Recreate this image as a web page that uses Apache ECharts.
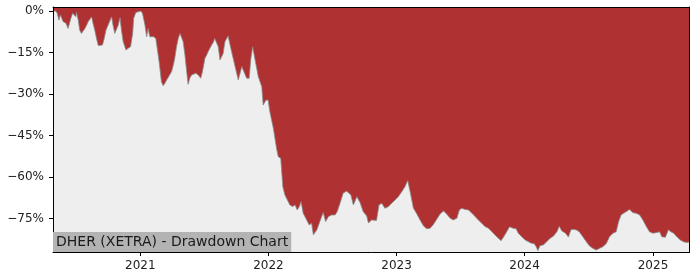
<!DOCTYPE html>
<html>
<head>
<meta charset="utf-8">
<script src="https://cdn.jsdelivr.net/npm/echarts@6/dist/echarts.min.js"></script>
<style>
html,body{margin:0;padding:0;background:#fff;}
#chart{width:700px;height:280px;}
</style>
</head>
<body>
<div id="chart"></div>
<script>
const titleText = 'DHER (XETRA) - Drawdown Chart';
const xStart = '2020-04-27';
const xEnd = '2025-04-15';
const yearTicks = ['2021-01-01','2022-01-01','2023-01-01','2024-01-01','2025-01-01'];
const yTicks = [0, -15, -30, -45, -60, -75];

const dates = [
'2020-04-27','2020-05-05','2020-05-09','2020-05-14','2020-05-18','2020-05-22','2020-05-26','2020-06-03','2020-06-09','2020-06-14',
'2020-06-17','2020-06-22','2020-06-26','2020-07-01','2020-07-03','2020-07-08','2020-07-12','2020-07-17','2020-07-22','2020-07-27',
'2020-08-01','2020-08-05','2020-08-10','2020-08-15','2020-08-19','2020-08-24','2020-08-29','2020-09-03','2020-09-07','2020-09-15',
'2020-09-20','2020-09-25','2020-10-01','2020-10-06','2020-10-11','2020-10-15','2020-10-20','2020-10-25','2020-10-30','2020-11-04',
'2020-11-08','2020-11-13','2020-11-21','2020-11-27','2020-12-04','2020-12-10','2020-12-13','2020-12-19','2020-12-26','2021-01-02',
'2021-01-07','2021-01-14','2021-01-19','2021-01-23','2021-01-28','2021-02-02','2021-02-08','2021-02-14','2021-02-18','2021-02-24',
'2021-03-02','2021-03-07','2021-03-12','2021-03-17','2021-03-24','2021-03-31','2021-04-05','2021-04-09','2021-04-14','2021-04-19',
'2021-04-24','2021-04-29','2021-05-03','2021-05-08','2021-05-13','2021-05-17','2021-05-22','2021-05-27','2021-06-01','2021-06-08',
'2021-06-15','2021-06-22','2021-06-27','2021-07-04','2021-07-09','2021-07-13','2021-07-18','2021-07-23','2021-07-28','2021-08-01',
'2021-08-06','2021-08-11','2021-08-16','2021-08-25','2021-08-30','2021-09-08','2021-09-18','2021-09-28','2021-10-07','2021-10-17',
'2021-10-21','2021-10-31','2021-11-07','2021-11-12','2021-11-17','2021-11-24','2021-11-28','2021-12-03','2021-12-13','2021-12-17',
'2021-12-25','2021-12-31','2022-01-05','2022-01-15','2022-01-24','2022-01-29','2022-02-05','2022-02-11','2022-02-17','2022-02-24',
'2022-03-03','2022-03-11','2022-03-18','2022-03-24','2022-03-30','2022-04-04','2022-04-10','2022-04-20','2022-04-27','2022-05-04',
'2022-05-09','2022-05-19','2022-05-28','2022-06-06','2022-06-13','2022-06-21','2022-06-30','2022-07-10','2022-07-16','2022-07-24',
'2022-08-02','2022-08-12','2022-08-17','2022-08-24','2022-08-31','2022-09-10','2022-09-19','2022-09-28','2022-10-08','2022-10-13',
'2022-10-22','2022-11-05','2022-11-12','2022-11-20','2022-11-29','2022-12-09','2022-12-18','2022-12-28','2023-01-06','2023-01-16',
'2023-01-25','2023-02-02','2023-02-09','2023-02-18','2023-02-28','2023-03-09','2023-03-19','2023-03-28','2023-04-07','2023-04-16',
'2023-04-26','2023-05-05','2023-05-15','2023-05-24','2023-06-03','2023-06-12','2023-06-22','2023-06-29','2023-07-06','2023-07-15',
'2023-07-25','2023-08-04','2023-08-13','2023-08-22','2023-09-01','2023-09-10','2023-09-20','2023-09-30','2023-10-09','2023-10-18',
'2023-10-26','2023-11-02','2023-11-11','2023-11-19','2023-11-29','2023-12-08','2023-12-14','2023-12-24','2024-01-03','2024-01-12',
'2024-01-22','2024-01-28','2024-02-03','2024-02-08','2024-02-14','2024-02-24','2024-03-04','2024-03-14','2024-03-23','2024-04-02',
'2024-04-09','2024-04-16','2024-04-26','2024-05-05','2024-05-12','2024-05-18','2024-05-27','2024-06-05','2024-06-15','2024-06-25',
'2024-07-04','2024-07-14','2024-07-23','2024-08-01','2024-08-11','2024-08-21','2024-08-30','2024-09-09','2024-09-18','2024-09-25',
'2024-10-02','2024-10-09','2024-10-17','2024-10-26','2024-11-05','2024-11-14','2024-11-24','2024-12-03','2024-12-13','2024-12-22',
'2025-01-01','2025-01-10','2025-01-20','2025-01-26','2025-02-05','2025-02-14','2025-02-21','2025-03-01','2025-03-10','2025-03-20',
'2025-03-29','2025-04-08','2025-04-14'
];

const drawdown = [
0,0,-0.8,-3.3,-1.4,-1.2,-3.9,-4.4,-6.3,-6.9,
-2.6,-0.8,-0.3,-2.1,-0.5,-3.3,-6.9,-8.1,-7.5,-6.3,
-5.1,-3.9,-3.3,-2.1,-4.4,-6.9,-9.9,-12.5,-12.9,-12.3,
-9.9,-6.9,-5.1,-4.4,-2.1,-5.1,-8.1,-7.5,-5.1,-2.4,
-6.9,-11.1,-14.1,-13.5,-12.9,-8.1,-2.6,-0.5,-0.3,0,
-0.8,-5.1,-9.3,-6.3,-9.3,-8.7,-9.3,-9.9,-13.5,-18.9,
-25.6,-27.0,-26.1,-24.9,-23.4,-21.9,-19.5,-17.1,-12.9,-9.9,
-8.1,-7.5,-11.1,-15.9,-21.9,-26.5,-24.2,-23.1,-22.5,-22.5,
-23.1,-24.3,-21.9,-17.1,-15.9,-14.7,-15.0,-12.3,-11.3,-9.9,
-9.9,-12.9,-17.7,-15.3,-11.1,-9.0,-14.7,-20.1,-24.9,-20.1,
-21.3,-24.3,-24.3,-17.1,-12.9,-17.7,-18.3,-23.7,-27.4,-34.0,
-32.2,-32.2,-36.4,-42.4,-49.6,-52.7,-53.2,-63.5,-66.5,-68.3,
-70.1,-70.7,-70.1,-71.9,-70.7,-68.9,-73.1,-75.5,-77.3,-76.7,
-80.9,-79.1,-75.9,-72.8,-76.1,-74.3,-73.7,-73.7,-72.5,-69.5,
-65.8,-65.1,-64.4,-66.5,-70.1,-67.1,-69.2,-72.5,-74.1,-76.6,
-75.5,-75.7,-70.1,-69.5,-71.3,-70.7,-69.5,-68.3,-67.1,-65.3,
-63.5,-61.3,-65.4,-71.2,-73.4,-75.5,-77.7,-78.7,-78.5,-77.2,
-75.2,-73.4,-72.3,-73.4,-74.9,-75.5,-74.9,-71.9,-71.3,-71.7,
-71.9,-73.1,-74.3,-75.5,-76.7,-77.9,-78.5,-79.8,-81.0,-82.1,
-83.0,-81.7,-79.8,-78.0,-78.5,-78.7,-80.3,-81.6,-82.8,-83.4,
-84.0,-84.0,-85.2,-86.6,-84.8,-84.5,-83.4,-82.1,-81.4,-79.8,
-77.8,-79.5,-80.2,-81.7,-79.1,-78.9,-79.1,-79.8,-81.6,-83.4,
-84.9,-85.8,-86.4,-85.8,-85.2,-84.0,-81.6,-80.3,-79.8,-76.1,
-73.7,-73.1,-72.5,-71.7,-72.9,-73.1,-73.7,-75.5,-77.9,-79.8,
-80.3,-80.1,-79.8,-81.6,-81.8,-79.1,-79.8,-80.3,-81.6,-82.8,
-83.4,-83.7,-83.5
];

const t = s => Date.parse(s);
const seriesData = dates.map((d, i) => [t(d), drawdown[i]]);
const font = 'DejaVu Sans';
const frameLine = {show: true, onZero: false, lineStyle: {color: '#000', width: 1}};

const chart = echarts.init(document.getElementById('chart'), null, {renderer: 'canvas'});
chart.setOption({
  animation: false,
  backgroundColor: '#ffffff',
  title: {
    text: titleText,
    left: 53, top: 232,
    padding: [2, 3, 1, 3],
    backgroundColor: '#b3b3b3',
    textStyle: {fontFamily: font, fontSize: 14, fontWeight: 'normal', color: '#1a1a1a', lineHeight: 17},
    z: 20
  },
  grid: {left: 53, right: 10.5, top: 7, bottom: 28, show: true, backgroundColor: '#eeeeee', borderWidth: 0},
  xAxis: [{
    type: 'value', position: 'bottom', min: t(xStart), max: t(xEnd), z: 10,
    axisLine: frameLine,
    axisTick: {show: true, length: 4, lineStyle: {color: '#000'}, customValues: yearTicks.map(t)},
    axisLabel: {customValues: yearTicks.map(t), margin: 8, fontFamily: font, fontSize: 12, color: '#222',
      formatter: v => String(new Date(v).getUTCFullYear())},
    splitLine: {show: false}
  }, {
    type: 'value', position: 'top', min: t(xStart), max: t(xEnd), z: 10,
    axisLine: frameLine,
    axisTick: {show: false}, axisLabel: {show: false}, splitLine: {show: false}
  }],
  yAxis: [{
    type: 'value', position: 'left', min: -87.1, max: 1.45, z: 10,
    axisLine: frameLine,
    axisTick: {show: true, length: 4, lineStyle: {color: '#000'}, customValues: yTicks},
    axisLabel: {customValues: yTicks, margin: 9, fontFamily: font, fontSize: 12, color: '#222',
      formatter: v => (v < 0 ? '\u2212' : '') + Math.abs(v) + '%'},
    splitLine: {show: false}
  }, {
    type: 'value', position: 'right', min: -87.1, max: 1.45, z: 10,
    axisLine: frameLine,
    axisTick: {show: false}, axisLabel: {show: false}, splitLine: {show: false}
  }],
  series: [{
    type: 'line',
    xAxisIndex: 0, yAxisIndex: 0,
    data: seriesData,
    showSymbol: false,
    symbol: 'none',
    smooth: false,
    lineStyle: {color: '#8a8a8a', width: 0.8},
    areaStyle: {color: '#b03132', opacity: 1, origin: 'end'},
    z: 2
  }]
});
</script>
</body>
</html>
